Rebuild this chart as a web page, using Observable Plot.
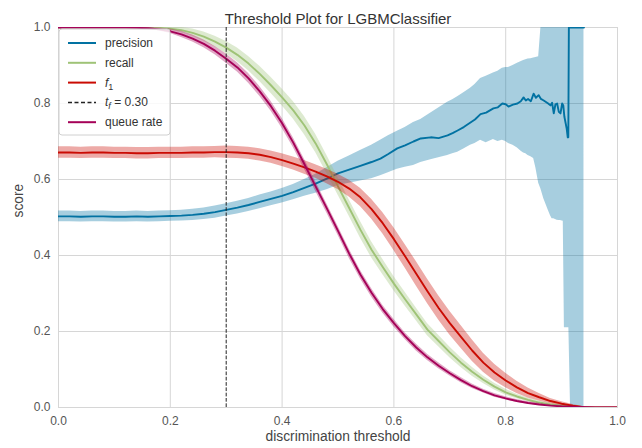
<!DOCTYPE html>
<html><head><meta charset="utf-8">
<script src="https://cdn.jsdelivr.net/npm/d3@7"></script>
<script src="https://cdn.jsdelivr.net/npm/@observablehq/plot@0.6"></script>
<style>
body{margin:0;background:#fff;}
#chart{width:642px;height:448px;}
</style>
</head><body><div id="chart"></div>
<script>
const title = "Threshold Plot for LGBMClassifier";
const xLabel = "discrimination threshold";
const yLabel = "score";
const xTicks = [0, 0.2, 0.4, 0.6, 0.8, 1.0];
const yTicks = [0, 0.2, 0.4, 0.6, 0.8, 1.0];
const thresholdTf = 0.30;

const thresholds = [0,0.02,0.04,0.06,0.08,0.10,0.12,0.14,0.16,0.18,0.20,0.22,0.24,0.26,0.28,0.30,0.32,0.34,0.36,0.38,0.40,0.42,0.44,0.46,0.48,0.50,0.52,0.54,0.56,0.58,0.60,0.62,0.64,0.66,0.68,0.70,0.72,0.74,0.76,0.78,0.80,0.82,0.84,0.86,0.88,0.90,0.92,0.94,0.96,0.98,1.00];

const recall = [1,1,1,1,1,1,1,1,1,0.999,0.997,0.993,0.986,0.976,0.963,0.947,0.928,0.905,0.878,0.848,0.816,0.782,0.742,0.695,0.640,0.582,0.525,0.468,0.415,0.370,0.326,0.285,0.245,0.205,0.175,0.145,0.118,0.094,0.073,0.055,0.040,0.029,0.020,0.013,0.008,0.005,0.003,0.001,0,0,0];
const recallStd = [0,0,0,0,0,0,0,0,0.001,0.002,0.004,0.007,0.010,0.012,0.014,0.016,0.018,0.019,0.020,0.021,0.022,0.023,0.024,0.024,0.024,0.023,0.022,0.022,0.021,0.020,0.019,0.018,0.017,0.016,0.015,0.014,0.013,0.012,0.010,0.009,0.008,0.006,0.005,0.004,0.003,0.002,0.001,0.001,0,0,0];

const f1 = [0.671,0.671,0.670,0.671,0.671,0.670,0.670,0.669,0.669,0.670,0.670,0.670,0.671,0.671,0.672,0.672,0.671,0.669,0.665,0.659,0.651,0.642,0.632,0.621,0.608,0.594,0.576,0.553,0.522,0.485,0.443,0.398,0.352,0.306,0.262,0.222,0.186,0.150,0.118,0.092,0.071,0.053,0.038,0.027,0.017,0.010,0.005,0.001,0,0,0];
const f1Std = [0.015,0.015,0.015,0.015,0.015,0.015,0.015,0.015,0.015,0.015,0.015,0.015,0.015,0.015,0.015,0.016,0.016,0.016,0.016,0.016,0.017,0.017,0.018,0.018,0.019,0.020,0.022,0.024,0.026,0.028,0.030,0.031,0.032,0.032,0.032,0.031,0.030,0.028,0.025,0.022,0.019,0.016,0.013,0.010,0.007,0.005,0.003,0.001,0,0,0];

const queueRate = [1,1,1,1,1,1,1,0.999,0.998,0.995,0.990,0.982,0.971,0.957,0.939,0.918,0.895,0.866,0.832,0.793,0.748,0.697,0.640,0.582,0.524,0.465,0.405,0.350,0.302,0.259,0.222,0.188,0.158,0.132,0.110,0.090,0.072,0.056,0.043,0.032,0.024,0.017,0.012,0.008,0.005,0.003,0.002,0.001,0,0,0];
const queueStd = [0,0,0,0,0,0,0,0.001,0.002,0.004,0.006,0.008,0.009,0.010,0.011,0.012,0.012,0.013,0.013,0.013,0.013,0.013,0.013,0.013,0.012,0.012,0.012,0.011,0.011,0.010,0.010,0.009,0.009,0.008,0.008,0.007,0.007,0.006,0.005,0.005,0.004,0.004,0.003,0.003,0.002,0.002,0.001,0.001,0,0,0];

const precisionT = [0,0.02,0.04,0.06,0.08,0.10,0.12,0.14,0.16,0.18,0.20,0.22,0.24,0.26,0.28,0.30,0.32,0.34,0.36,0.38,0.40,0.42,0.44,0.46,0.48,0.50,0.52,0.54,0.56,
  0.576,0.59,0.606,0.62,0.635,0.648,0.666,0.68,0.696,0.705,
  0.714,0.725,0.737,0.745,0.755,0.765,0.778,0.786,0.794,0.80,
  0.805,0.813,0.821,0.827,0.832,0.836,0.84,0.845,0.85,0.854,
  0.859,0.863,0.868,0.872,0.876,0.88,0.883,0.886,0.889,0.892,
  0.895,0.898,0.901,0.903,0.905,0.907,0.909,0.911,0.912,0.913,
  0.916,0.94];
const precision = [0.503,0.503,0.502,0.503,0.503,0.502,0.502,0.503,0.502,0.503,0.504,0.505,0.507,0.510,0.514,0.520,0.526,0.533,0.541,0.549,0.557,0.567,0.578,0.589,0.602,0.616,0.626,0.636,0.646,
  0.655,0.667,0.682,0.690,0.700,0.708,0.711,0.709,0.716,0.722,
  0.729,0.738,0.750,0.758,0.772,0.776,0.787,0.790,0.800,0.798,
  0.792,0.797,0.800,0.806,0.816,0.808,0.812,0.806,0.826,0.815,
  0.822,0.812,0.808,0.804,0.800,0.795,0.802,0.774,0.798,0.800,
  0.778,0.774,0.800,0.795,0.765,0.750,0.735,0.711,0.711,1.0,
  1.0,1.0];
const precisionHi = [0.517,0.517,0.516,0.517,0.517,0.516,0.516,0.517,0.516,0.517,0.518,0.519,0.522,0.525,0.530,0.536,0.543,0.550,0.559,0.567,0.576,0.587,0.600,0.614,0.631,0.648,0.662,0.676,0.690,
  0.703,0.715,0.727,0.737,0.750,0.758,0.775,0.788,0.803,0.810,
  0.818,0.828,0.840,0.850,0.866,0.872,0.880,0.885,0.893,0.895,
  0.895,0.900,0.906,0.910,0.913,0.915,0.917,0.918,0.920,0.921,
  0.923,1.0,1.0,1.0,1.0,1.0,1.0,1.0,1.0,1.0,
  1.0,1.0,1.0,1.0,1.0,1.0,1.0,1.0,1.0,1.0,
  1.0,1.0];
const precisionLo = [0.489,0.489,0.488,0.489,0.489,0.488,0.488,0.489,0.488,0.489,0.490,0.491,0.492,0.495,0.498,0.504,0.509,0.516,0.523,0.531,0.538,0.547,0.556,0.564,0.573,0.584,0.590,0.596,0.602,
  0.610,0.618,0.627,0.632,0.637,0.645,0.652,0.657,0.663,0.668,
  0.672,0.680,0.690,0.695,0.703,0.697,0.705,0.700,0.703,0.700,
  0.695,0.690,0.683,0.675,0.670,0.668,0.663,0.660,0.655,0.630,
  0.590,0.575,0.550,0.535,0.520,0.505,0.497,0.497,0.495,0.493,
  0.492,0.492,0.491,0.490,0.210,0.210,0.210,0.210,0.210,0.210,
  0,0];

const seriesNames = ["precision", "recall", "f1", "queue rate"];
const seriesColors = ["#0272a2", "#9fc377", "#ca0b03", "#a50258"];

const precRows = precisionT.map((t, i) => ({t, v: precision[i], lo: precisionLo[i], hi: precisionHi[i]}));
const mk = (vals, std) => thresholds.map((t, i) => ({t, v: vals[i], lo: Math.max(0, vals[i] - std[i]), hi: Math.min(1, vals[i] + std[i])}));
const recRows = mk(recall, recallStd);
const f1Rows = mk(f1, f1Std);
const queueRows = mk(queueRate, queueStd);

const seriesMarks = (rows, color) => [
  Plot.areaY(rows, {x: "t", y1: "lo", y2: "hi", fill: color, fillOpacity: 0.35, clip: true}),
  Plot.lineY(rows, {x: "t", y: "v", stroke: color, strokeWidth: 1.9, clip: true})
];

const fmt = d3.format(".1f");
const font = "'Liberation Sans', Arial, sans-serif";

const chart = Plot.plot({
  width: 642, height: 448,
  marginLeft: 58, marginRight: 25, marginTop: 27, marginBottom: 41,
  style: {fontFamily: font, background: "#fff", overflow: "visible"},
  x: {domain: [0, 1]},
  y: {domain: [0, 1]},
  marks: [
    Plot.gridX(xTicks, {stroke: "#d6d6d6", strokeOpacity: 1, strokeWidth: 1}),
    Plot.gridY(yTicks, {stroke: "#d6d6d6", strokeOpacity: 1, strokeWidth: 1}),
    Plot.frame({stroke: "#d6d6d6", strokeWidth: 1}),
    Plot.axisX(xTicks, {tickSize: 0, tickPadding: 9, tickFormat: fmt, fill: "#555", fontSize: 12, label: null}),
    Plot.axisY(yTicks, {tickSize: 0, tickPadding: 8, tickFormat: fmt, fill: "#555", fontSize: 12, label: null}),
    ...seriesMarks(precRows, seriesColors[0]),
    ...seriesMarks(recRows, seriesColors[1]),
    ...seriesMarks(f1Rows, seriesColors[2]),
    ...seriesMarks(queueRows, seriesColors[3]),
    Plot.ruleX([thresholdTf], {stroke: "#222", strokeWidth: 1, strokeDasharray: "3.7,1.6"}),
    Plot.text([title], {text: d => d, frameAnchor: "top", dy: -14, fontSize: 15, fill: "#333"}),
    Plot.text([xLabel], {text: d => d, frameAnchor: "bottom", dy: 33, fontSize: 13.8, fill: "#444"}),
    Plot.text([yLabel], {text: d => d, frameAnchor: "left", dx: -40, rotate: -90, fontSize: 13.8, fill: "#444"})
  ]
});
document.getElementById("chart").appendChild(chart);

// Legend (upper left, inside the axes)
const sx = chart.scale("x"), sy = chart.scale("y");
const x0 = sx.apply(0), y0 = sy.apply(1);
const svg = d3.select(chart);
const g = svg.append("g").attr("font-family", font).attr("font-size", 12).attr("text-anchor", "start");
g.append("rect").attr("x", x0 + 1).attr("y", y0 + 2).attr("width", 111).attr("height", 106)
  .attr("rx", 3).attr("fill", "#fff").attr("fill-opacity", 0.85).attr("stroke", "#d0d0d0");
const entries = [
  {key: "precision", color: seriesColors[0], dash: null},
  {key: "recall", color: seriesColors[1], dash: null},
  {key: "f1", color: seriesColors[2], dash: null},
  {key: "tf", color: "#222", dash: "4,2.5"},
  {key: "queue rate", color: seriesColors[3], dash: null}
];
entries.forEach((e, i) => {
  const yy = y0 + 16 + i * 19.8;
  g.append("line").attr("x1", x0 + 10).attr("x2", x0 + 38).attr("y1", yy).attr("y2", yy)
    .attr("stroke", e.color).attr("stroke-width", e.dash ? 1.5 : 2)
    .attr("stroke-dasharray", e.dash);
  const t = g.append("text").attr("x", x0 + 47).attr("y", yy + 4).attr("fill", "#333").attr("text-anchor", "start");
  if (e.key === "f1") {
    t.append("tspan").attr("font-style", "italic").text("f");
    t.append("tspan").attr("dy", 3).attr("font-size", 9).text("1");
  } else if (e.key === "tf") {
    t.append("tspan").attr("font-style", "italic").text("t");
    t.append("tspan").attr("dy", 3).attr("font-size", 9).attr("font-style", "italic").text("f");
    t.append("tspan").attr("dy", -3).text(" = " + thresholdTf.toFixed(2));
  } else {
    t.text(e.key);
  }
});
</script>
</body></html>
